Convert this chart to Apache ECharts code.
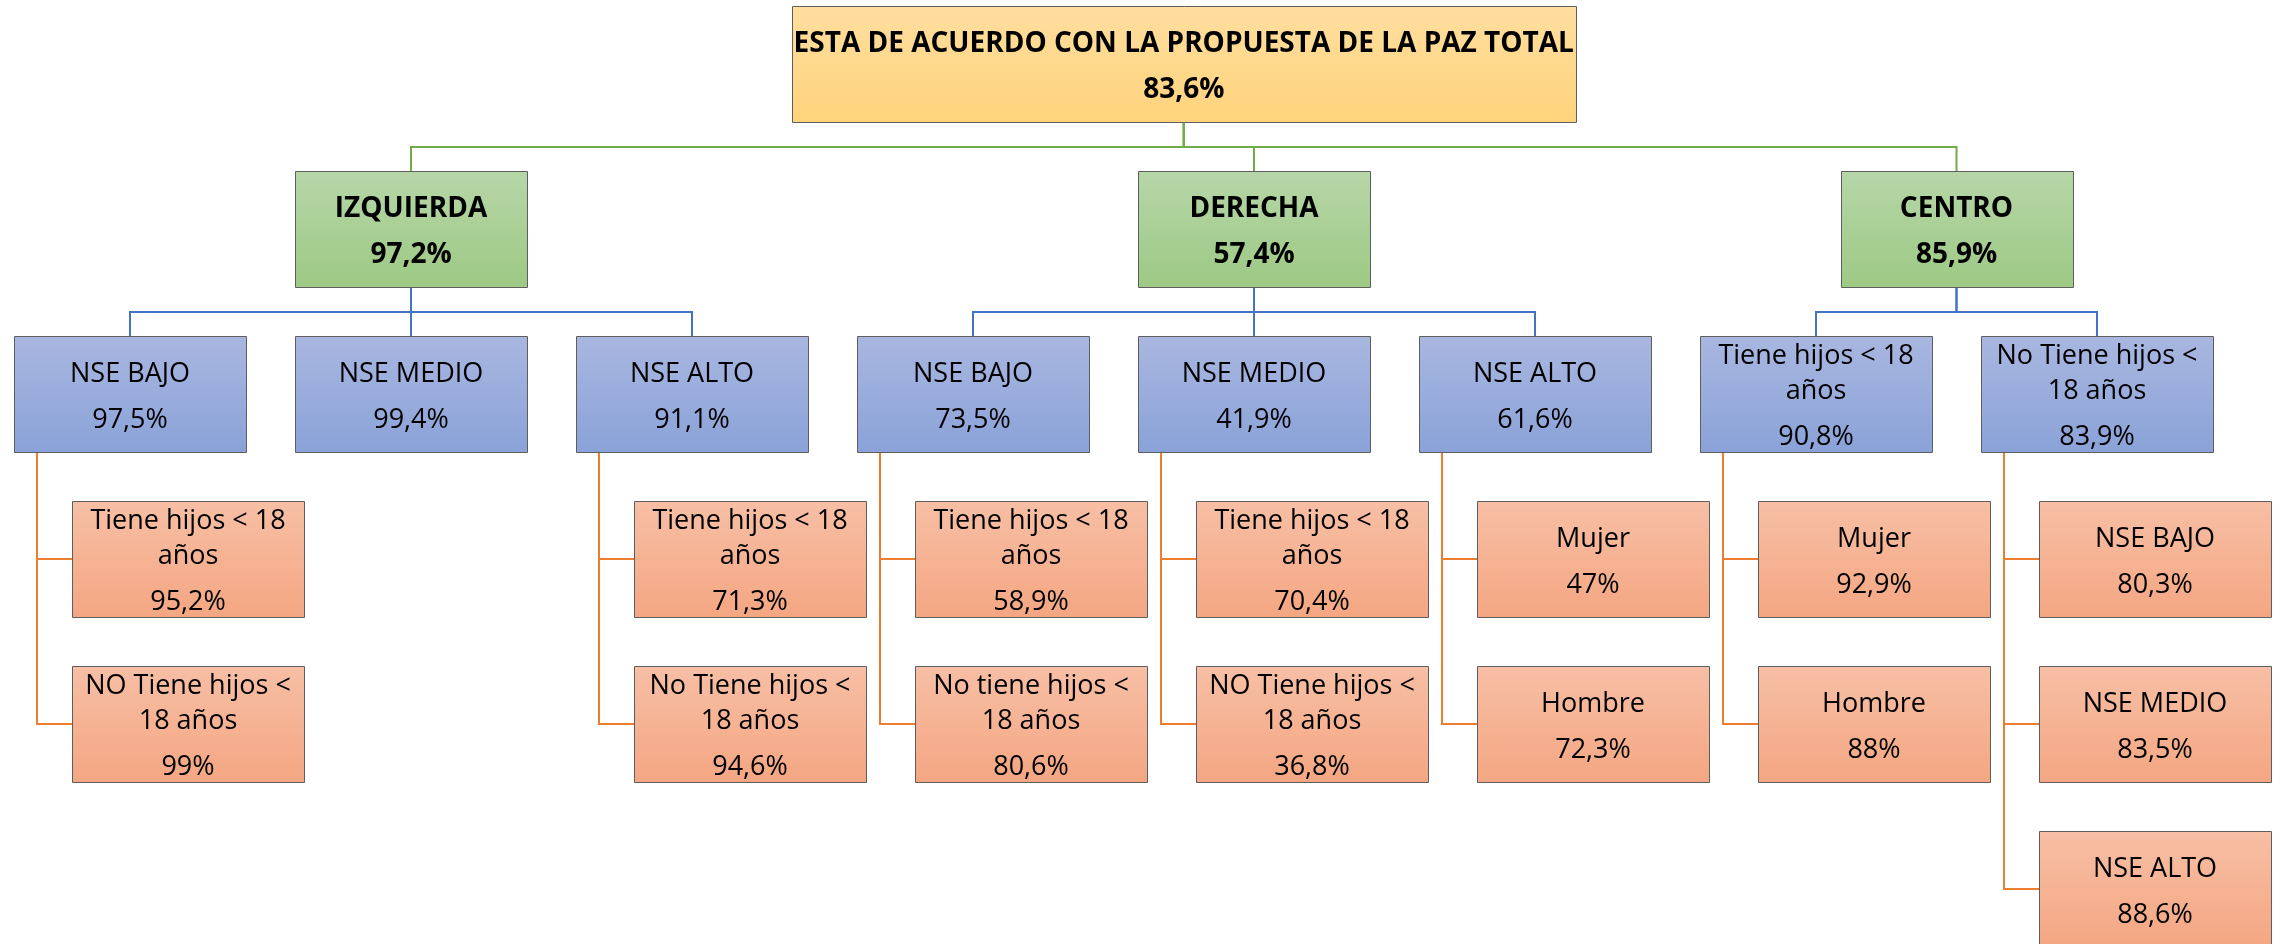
<!DOCTYPE html>
<html>
<head>
<meta charset="utf-8">
<title>Paz Total</title>
<script src="https://cdn.jsdelivr.net/npm/echarts@6.0.0/dist/echarts.min.js"></script>
<style>
html, body { margin: 0; padding: 0; background: #fff; }
#chart { width: 2280px; height: 944px; }
</style>
</head>
<body>
<div id="chart"></div>
<script>
// raiz
var rootName = 'ESTA DE ACUERDO CON LA PROPUESTA DE LA PAZ TOTAL';
var rootValue = '83,6%';

// nivel 1: posicion politica
var groupNames = ['IZQUIERDA', 'DERECHA', 'CENTRO'];
var groupValues = ['97,2%', '57,4%', '85,9%'];

// nivel 2 (segGroup = indice del grupo padre)
var segNames = ['NSE BAJO', 'NSE MEDIO', 'NSE ALTO', 'NSE BAJO', 'NSE MEDIO', 'NSE ALTO',
    'Tiene hijos < 18\naños', 'No Tiene hijos <\n18 años'];
var segValues = ['97,5%', '99,4%', '91,1%', '73,5%', '41,9%', '61,6%', '90,8%', '83,9%'];
var segGroup = [0, 0, 0, 1, 1, 1, 2, 2];

// nivel 3 (subSeg = indice del segmento padre)
var subNames = ['Tiene hijos < 18\naños', 'NO Tiene hijos <\n18 años',
    'Tiene hijos < 18\naños', 'No Tiene hijos <\n18 años',
    'Tiene hijos < 18\naños', 'No tiene hijos <\n18 años',
    'Tiene hijos < 18\naños', 'NO Tiene hijos <\n18 años',
    'Mujer', 'Hombre',
    'Mujer', 'Hombre',
    'NSE BAJO', 'NSE MEDIO', 'NSE ALTO'];
var subValues = ['95,2%', '99%', '71,3%', '94,6%', '58,9%', '80,6%', '70,4%', '36,8%',
    '47%', '72,3%', '92,9%', '88%', '80,3%', '83,5%', '88,6%'];
var subSeg = [0, 0, 2, 2, 3, 3, 4, 4, 5, 5, 6, 6, 7, 7, 7];

// estilos
var ROOT_W = 784, BOX_W = 232, BOX_H = 116;
var INDENT = 58, STEM = 23;
var WRAP_GAP = 34.5, PARA_GAP = 46, TEXT_DY = 3;
var FONT = '"Open Sans", "Noto Sans", sans-serif';
var LINK_COLORS = ['#70AD47', '#4472C4', '#ED7D31'];
var FILLS = [
    ['#FFDE9F', '#FED37B'],
    ['#B6D6A8', '#9DC984'],
    ['#A9B7E0', '#8AA2D8'],
    ['#F7BFA5', '#F4A682']
];

// layout del organigrama en unidades de columna / fila
function mid(arr) {
    return (Math.min.apply(null, arr) + Math.max.apply(null, arr)) / 2;
}
var segX = segNames.map(function (n, i) { return i; });
var groupX = groupNames.map(function (n, g) {
    return mid(segX.filter(function (x, i) { return segGroup[i] === g; }));
});
var rootX = mid(groupX);

var nodes = [];
nodes.push({ name: rootName, value: rootValue, level: 0, x: rootX, y: 0, parent: -1 });
groupNames.forEach(function (g, i) {
    nodes.push({ name: g, value: groupValues[i], level: 1, x: groupX[i], y: 1, parent: 0 });
});
var segBase = nodes.length;
segNames.forEach(function (s, i) {
    nodes.push({ name: s, value: segValues[i], level: 2, x: segX[i], y: 2, parent: 1 + segGroup[i] });
});
var childCount = segNames.map(function () { return 0; });
subNames.forEach(function (s, i) {
    var p = subSeg[i];
    nodes.push({ name: s, value: subValues[i], level: 3, x: segX[p], y: 3 + childCount[p]++, parent: segBase + p });
});

var boxData = nodes.map(function (n, i) { return [n.x, n.y, i]; });
var linkData = nodes.filter(function (n) { return n.parent >= 0; }).map(function (n) {
    var p = nodes[n.parent];
    return [n.x, n.y, p.x, p.y, p.level];
});

function renderLink(params, api) {
    var c = api.coord([api.value(0), api.value(1)]);
    var p = api.coord([api.value(2), api.value(3)]);
    var kind = api.value(4);
    var pts;
    if (kind < 2) {
        var pb = p[1] + BOX_H / 2, ct = c[1] - BOX_H / 2, m = Math.round((pb + ct) / 2);
        pts = [[p[0], pb], [p[0], m], [c[0], m], [c[0], ct]];
    } else {
        var vx = Math.round(p[0] - BOX_W / 2 + STEM);
        var cl = c[0] + INDENT - BOX_W / 2;
        var cy = Math.round(c[1]);
        pts = [[vx, p[1] + BOX_H / 2], [vx, cy], [cl, cy]];
    }
    return {
        type: 'polyline',
        shape: { points: pts },
        style: { stroke: LINK_COLORS[kind], lineWidth: 2, fill: null }
    };
}

function renderBox(params, api) {
    var node = nodes[api.value(2)];
    var c = api.coord([api.value(0), api.value(1)]);
    var w = node.level === 0 ? ROOT_W : BOX_W;
    var cx = c[0] + (node.level === 3 ? INDENT : 0);
    var x0 = Math.round(cx - w / 2) + 0.5, y0 = Math.round(c[1] - BOX_H / 2) + 0.5;
    var bold = node.level < 2;
    var font = (bold ? 'bold 28px ' : '27px ') + FONT;
    var lines = node.name.split('\n');
    var top = c[1] + TEXT_DY - ((lines.length - 1) * WRAP_GAP + PARA_GAP) / 2;
    var col = FILLS[node.level];
    var children = [{
        type: 'rect',
        shape: { x: x0, y: y0, width: w, height: BOX_H },
        style: {
            fill: new echarts.graphic.LinearGradient(0, 0, 0, 1, [
                { offset: 0, color: col[0] }, { offset: 1, color: col[1] }
            ]),
            stroke: '#5e5e5e',
            lineWidth: 1
        }
    }];
    lines.forEach(function (t, i) {
        children.push({
            type: 'text',
            style: { text: t, x: cx, y: top + i * WRAP_GAP, align: 'center', verticalAlign: 'middle', font: font, fill: '#000' }
        });
    });
    children.push({
        type: 'text',
        style: {
            text: node.value, x: cx, y: top + (lines.length - 1) * WRAP_GAP + PARA_GAP,
            align: 'center', verticalAlign: 'middle', font: font, fill: '#000'
        }
    });
    return { type: 'group', children: children };
}

var myChart = echarts.init(document.getElementById('chart'));

option = {
    animation: false,
    backgroundColor: '#fff',
    grid: { left: 130, top: 64, width: 281 * 7, height: 165 * 5 },
    xAxis: { type: 'value', min: 0, max: 7, show: false },
    yAxis: { type: 'value', min: 0, max: 5, inverse: true, show: false },
    series: [{
        type: 'custom',
        clip: false,
        silent: true,
        renderItem: renderLink,
        dimensions: ['x', 'y', 'px', 'py', 'kind'],
        encode: { x: 0, y: 1 },
        data: linkData
    }, {
        type: 'custom',
        clip: false,
        silent: true,
        renderItem: renderBox,
        dimensions: ['x', 'y', 'node'],
        encode: { x: 0, y: 1 },
        data: boxData
    }]
};

myChart.setOption(option);
</script>
</body>
</html>
